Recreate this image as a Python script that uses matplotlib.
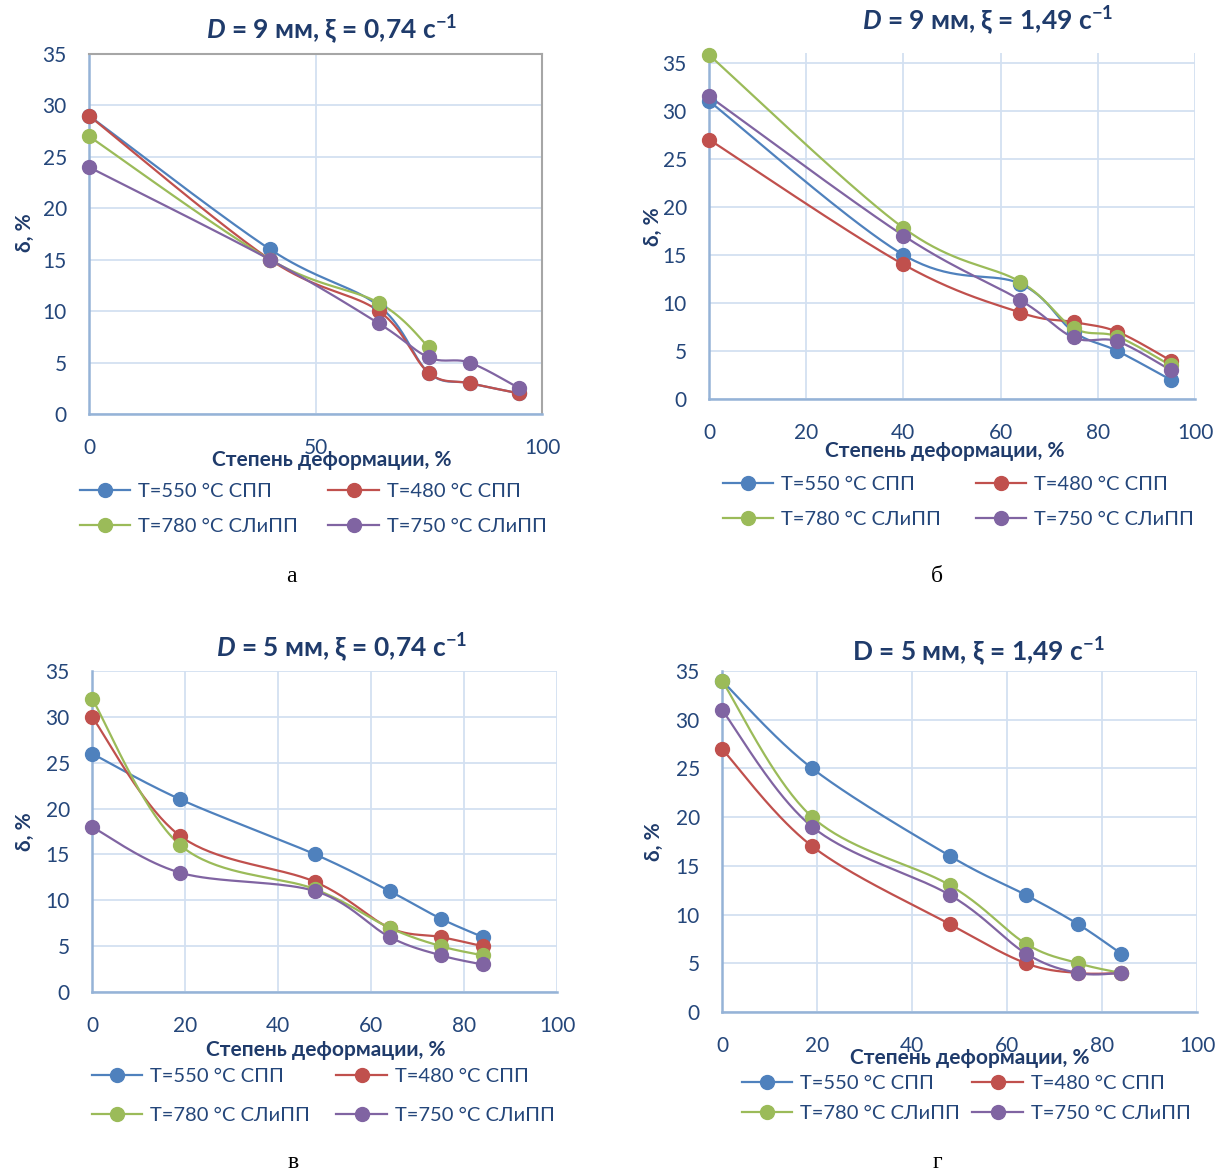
import numpy as np
import matplotlib
matplotlib.use("Agg")
import matplotlib.pyplot as plt

plt.rcParams['font.family'] = ['Lato', 'Noto Sans', 'DejaVu Sans']
plt.rcParams['mathtext.fontset'] = 'custom'
plt.rcParams['mathtext.rm'] = 'Lato:bold'
plt.rcParams['mathtext.it'] = 'Lato:bold:italic'

# степень деформации, %
x_9 = [0, 40, 64, 75, 84, 95]
x_5 = [0, 19, 48, 64, 75, 84]

# а: D = 9 мм, 0,74 c-1
a_550 = [29, 16, 10.5, 4, 3, 2]
a_480 = [29, 15, 10, 4, 3, 2]
a_780 = [27, 15, 10.8, 6.5, np.nan, np.nan]
a_750 = [24, 15, 8.8, 5.5, 5, 2.5]

# б: D = 9 мм, 1,49 c-1
b_550 = [31, 15, 12, 7, 5, 2]
b_480 = [27, 14, 9, 8, 7, 4]
b_780 = [35.8, 17.8, 12.2, 7.4, 6.5, 3.5]
b_750 = [31.5, 17, 10.3, 6.4, 6, 3]

# в: D = 5 мм, 0,74 c-1
c_550 = [26, 21, 15, 11, 8, 6]
c_480 = [30, 17, 12, 7, 6, 5]
c_780 = [32, 16, 11.2, 7, 5, 4]
c_750 = [18, 13, 11, 6, 4, 3]

# г: D = 5 мм, 1,49 c-1
d_550 = [34, 25, 16, 12, 9, 6]
d_480 = [27, 17, 9, 5, 4, 4]
d_780 = [34, 20, 13, 7, 5, 4]
d_750 = [31, 19, 12, 6, 4, 4]

labels = ['T=550 °C СПП', 'T=480 °C СПП', 'T=780 °C СЛиПП', 'T=750 °C СЛиПП']
colors = ['#4F81BD', '#C0504D', '#9BBB59', '#8064A2']

W, H = 1217, 1176
fig = plt.figure(figsize=(W / 100, H / 100), dpi=100)

title_c = '#1F3B6B'
tick_c = '#24467A'


def box(l, t, r, b):
    return [l / W, 1 - b / H, (r - l) / W, (b - t) / H]


def smooth(x, y, n=40):
    # excel-like smoothed line (catmull-rom bezier)
    x = np.asarray(x, float)
    y = np.asarray(y, float)
    ok = ~np.isnan(y)
    x, y = x[ok], y[ok]
    px = np.concatenate([[x[0]], x, [x[-1]]])
    py = np.concatenate([[y[0]], y, [y[-1]]])
    xs, ys = [], []
    t = np.linspace(0, 1, n)
    for i in range(len(x) - 1):
        p0 = np.array([px[i], py[i]])
        p1 = np.array([px[i + 1], py[i + 1]])
        p2 = np.array([px[i + 2], py[i + 2]])
        p3 = np.array([px[i + 3], py[i + 3]])
        c1 = p1 + (p2 - p0) / 6
        c2 = p2 - (p3 - p1) / 6
        b = ((1 - t) ** 3)[:, None] * p1 + (3 * (1 - t) ** 2 * t)[:, None] * c1 \
            + (3 * (1 - t) * t ** 2)[:, None] * c2 + (t ** 3)[:, None] * p2
        xs.append(b[:, 0])
        ys.append(b[:, 1])
    return np.concatenate(xs), np.concatenate(ys)


panels = [
    dict(rect=(89, 54, 542, 414), x=x_9, ys=[a_550, a_480, a_780, a_750],
         title=r'$\mathit{D}$ = 9 мм, ξ = 0,74 с$^{-1}$', tpos=(332, 30),
         xticks=[0, 50, 100], ymax=35, xl=(332, 460), yl=(25, 233),
         leg=(80, 483), legsp=1.5, legls=0.9, cap='а', cpos=(291, 576), border=True),
    dict(rect=(709, 53, 1195, 399), x=x_9, ys=[b_550, b_480, b_780, b_750],
         title=r'$\mathit{D}$ = 9 мм, ξ = 1,49 с$^{-1}$', tpos=(988, 21),
         xticks=[0, 20, 40, 60, 80, 100], ymax=36, xl=(945, 451), yl=(653, 227),
         leg=(723, 476), legsp=1.7, legls=0.9, cap='б', cpos=(937, 576), border=False),
    dict(rect=(92, 671, 557, 992), x=x_5, ys=[c_550, c_480, c_780, c_750],
         title=r'$\mathit{D}$ = 5 мм, ξ = 0,74 с$^{-1}$', tpos=(342, 648),
         xticks=[0, 20, 40, 60, 80, 100], ymax=35, xl=(326, 1050), yl=(25, 832),
         leg=(92, 1068), legsp=1.3, legls=1.07, cap='в', cpos=(293, 1162), border=False),
    dict(rect=(722, 671, 1197, 1012), x=x_5, ys=[d_550, d_480, d_780, d_750],
         title='D = 5 мм, ξ = 1,49 с$^{-1}$', tpos=(978, 652),
         xticks=[0, 20, 40, 60, 80, 100], ymax=35, xl=(970, 1058), yl=(654, 842),
         leg=(742, 1075), legsp=0.6, legls=0.65, cap='г', cpos=(937, 1162), border=False),
]

for p in panels:
    ax = fig.add_axes(box(*p['rect']))
    handles = []
    for yv, c, lab in zip(p['ys'], colors, labels):
        sx, sy = smooth(p['x'], yv)
        ax.plot(sx, sy, color=c, lw=1.6, zorder=3, clip_on=False)
        ax.plot(p['x'], yv, 'o', color=c, ms=10, mec=c, zorder=4, clip_on=False)
        h, = ax.plot([], [], '-o', color=c, lw=1.6, ms=10, label=lab)
        handles.append(h)
    ax.set_xlim(0, 100)
    ax.set_ylim(0, p['ymax'])
    ax.set_xticks(p['xticks'])
    ax.set_yticks(range(0, 36, 5))
    ax.grid(True, color='#D3E0F1', lw=1.3)
    ax.set_axisbelow(True)
    ax.tick_params(length=0, labelsize=15, colors=tick_c)
    ax.tick_params(axis='x', pad=17)
    ax.tick_params(axis='y', pad=16)
    for s in ['left', 'bottom']:
        ax.spines[s].set_color('#95B3D7')
        ax.spines[s].set_linewidth(1.8)
    for s in ['top', 'right']:
        if p['border']:
            ax.spines[s].set_color('#A6A6A6')
            ax.spines[s].set_linewidth(1.5)
        else:
            ax.spines[s].set_visible(False)

    fig.text(p['tpos'][0] / W, 1 - p['tpos'][1] / H, p['title'], fontsize=19,
             fontweight='bold', color=title_c, ha='center', va='center')
    fig.text(p['xl'][0] / W, 1 - p['xl'][1] / H, 'Степень деформации, %', fontsize=15,
             fontweight='bold', color=title_c, ha='center', va='center')
    fig.text(p['yl'][0] / W, 1 - p['yl'][1] / H, 'δ, %', fontsize=15, rotation=90,
             fontweight='bold', color=title_c, ha='center', va='center')
    fig.text(p['cpos'][0] / W, 1 - p['cpos'][1] / H, p['cap'], fontsize=17,
             family='Liberation Serif', ha='center', va='center')

    order = [handles[0], handles[2], handles[1], handles[3]]
    fig.legend(handles=order, labels=[h.get_label() for h in order], ncol=2,
               loc='upper left', bbox_to_anchor=(p['leg'][0] / W, 1 - p['leg'][1] / H),
               frameon=False, fontsize=14.5, handlelength=2.5, handletextpad=0.4,
               columnspacing=p['legsp'], labelspacing=p['legls'], borderpad=0,
               borderaxespad=0, labelcolor=tick_c)

fig.savefig('out.png', dpi=100)
